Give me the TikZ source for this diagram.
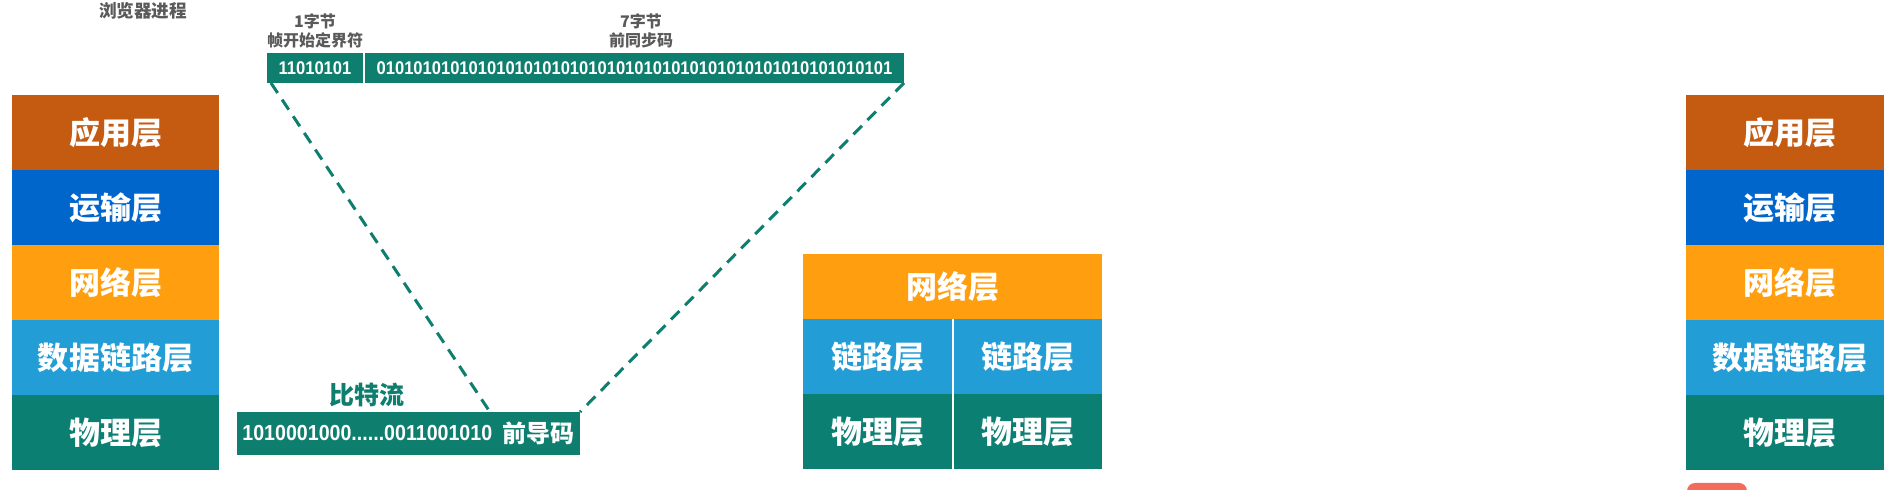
\documentclass[tikz,border=0pt]{standalone}
\usepackage{fontspec}
\usepackage{xcolor}
\usepackage{tikz}
\usetikzlibrary{positioning,calc}

\newfontfamily\cjk{Noto Sans CJK SC}
\newfontfamily\bitfont[FakeStretch=0.9]{Liberation Sans}

\definecolor{appcol}{HTML}{C55A11}
\definecolor{transcol}{HTML}{0066CC}
\definecolor{netcol}{HTML}{FF9E0E}
\definecolor{linkcol}{HTML}{239DD6}
\definecolor{phycol}{HTML}{0B7F72}
\definecolor{framecol}{HTML}{0E7E6E}
\definecolor{labelcol}{HTML}{5A5A5A}
\definecolor{reccol}{HTML}{F26B5B}

\begin{document}
\begin{tikzpicture}[
    x=0.5pt, y=-0.5pt,
    node distance=0pt,
    layer/.style={rectangle, minimum width=103.5pt, minimum height=37.5pt, inner sep=0pt, outer sep=0pt, text=white, font=\cjk\bfseries\fontsize{15.5pt}{16pt}\selectfont},
    field/.style={rectangle, fill=framecol, minimum height=15pt, inner sep=0pt, outer sep=0pt, text=white, font=\bitfont\bfseries\fontsize{9.2pt}{10pt}\selectfont},
    toplabel/.style={align=center, inner sep=0pt, text=labelcol, font=\cjk\bfseries\fontsize{8pt}{9.5pt}\selectfont},
    link/.style={draw=framecol, dash pattern=on 6pt off 4pt, line width=1.5pt}
]
\useasboundingbox (0,0) rectangle (1884,490);
\fill[white] (0,0) rectangle (1884,490);

% Title
\node[text=labelcol, font=\cjk\bfseries\fontsize{8.8pt}{10pt}\selectfont] (browser) at (143,11) {浏览器进程};

% Left stack (browser host)
\node[layer, fill=appcol, anchor=north west] (lapp) at (12,95) {应用层};
\node[layer, fill=transcol, below=of lapp] (ltrans) {运输层};
\node[layer, fill=netcol, below=of ltrans] (lnet) {网络层};
\node[layer, fill=linkcol, below=of lnet] (llink) {数据链路层};
\node[layer, fill=phycol, below=of llink] (lphy) {物理层};

% Right stack (server host)
\node[layer, fill=appcol, anchor=north west] (rapp) at (1686,95) {应用层};
\node[layer, fill=transcol, below=of rapp] (rtrans) {运输层};
\node[layer, fill=netcol, below=of rtrans] (rnet) {网络层};
\node[layer, fill=linkcol, below=of rnet] (rlink) {数据链路层};
\node[layer, fill=phycol, below=of rlink] (rphy) {物理层};

% Middle stack (router)
\node[layer, fill=netcol, minimum width=149.5pt, minimum height=32.5pt, anchor=north west] (mnet) at (803,254) {网络层};
\node[layer, fill=linkcol, minimum width=74.5pt, anchor=north west] (mlinka) at (mnet.south west) {链路层};
\node[layer, fill=linkcol, minimum width=74pt, anchor=north east] (mlinkb) at (mnet.south east) {链路层};
\node[layer, fill=phycol, minimum width=74.5pt, below=of mlinka] (mphya) {物理层};
\node[layer, fill=phycol, minimum width=74pt, below=of mlinkb] (mphyb) {物理层};

% Preamble fields
\node[field, minimum width=48pt, anchor=north west] (sfd) at (267,53) {11010101};
\node[field, minimum width=269.5pt, anchor=north west] (pre) at (365,53) {01010101010101010101010101010101010101010101010101010101};
\node[toplabel] (sfdlabel) at (315,30.5) {1字节\\帧开始定界符};
\node[toplabel] (prelabel) at (641,30.5) {7字节\\前同步码};

% Bit stream
\node[rectangle, fill=framecol, minimum width=171.5pt, minimum height=21.5pt, inner sep=0pt, outer sep=0pt, anchor=north west] (stream) at (237,412) {};
\node[anchor=west, inner sep=0pt, text=white, font=\bitfont\bfseries\fontsize{10.9pt}{11pt}\selectfont] (streambits) at (242,433.5) {1010001000......0011001010};
\node[anchor=east, inner sep=0pt, text=white, font=\cjk\bfseries\fontsize{12pt}{13pt}\selectfont] (pcode) at (575,433.5) {前导码};
\node[text=framecol, font=\cjk\bfseries\fontsize{12.5pt}{13pt}\selectfont] (streamtitle) at (367,395) {比特流};

% Dashed mapping lines
\coordinate (cut) at (490,412);
\draw[link] ($(sfd.south west)+(4,0)$) -- (cut);
\draw[link] (pre.south east) -- (stream.north east);

% Clipped marker at bottom right
\fill[reccol, rounded corners=4pt] (1687,483) rectangle (1747,505);

\end{tikzpicture}
\end{document}
